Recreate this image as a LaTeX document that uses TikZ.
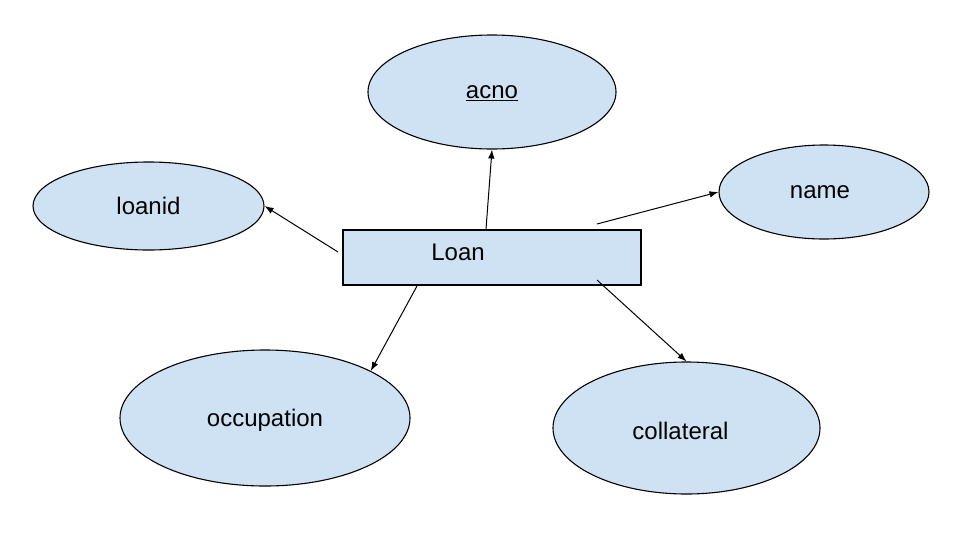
\documentclass[tikz,border=0pt]{standalone}
\usepackage{fontspec}
\setmainfont{Liberation Sans}
\usetikzlibrary{arrows.meta,shapes.geometric}

\definecolor{attrblue}{HTML}{CFE2F3}

\begin{document}
\begin{tikzpicture}[x=1pt,y=-1pt,
	font=\fontsize{24}{28}\selectfont,
	attr/.style={ellipse,draw,line width=1.1pt,fill=attrblue,inner sep=0pt,text depth=0pt},
	ent/.style={rectangle,draw,line width=1.1pt,fill=attrblue,inner sep=0pt,minimum width=298pt,minimum height=55pt},
	link/.style={line width=1pt,-{Latex[length=9pt,width=6.5pt]}}]
	\useasboundingbox (0,0) rectangle (957,546);

	\node[ent] (loan) at (492,257.5) {};
	\node[text depth=0pt] (loantext) at (458,252) {Loan};

	\node[attr,minimum width=248pt,minimum height=114pt] (acno) at (492,92) {\underline{acno}};
	\node[attr,minimum width=231pt,minimum height=88pt] (loanid) at (148.5,206) {loanid};
	\node[attr,minimum width=210pt,minimum height=94pt] (name) at (824,192) {\hspace*{-8pt}name};
	\node[attr,minimum width=290pt,minimum height=136pt] (occupation) at (265,418) {occupation};
	\node[attr,minimum width=267pt,minimum height=132pt] (collateral) at (686.5,428) {\raisebox{-5pt}{collateral}\hspace*{12pt}};

	\coordinate (fromacno) at (486,229);
	\coordinate (fromloanid) at (338,252);
	\coordinate (fromname) at (597,224);
	\coordinate (fromocc) at (417,286);
	\coordinate (fromcoll) at (597,280);

	\draw[link] (fromacno) to (acno.south);
	\draw[link] (fromloanid) to (loanid.east);
	\draw[link] (fromname) to (name.west);
	\draw[link] (fromocc) to (occupation.24);
	\draw[link] (fromcoll) to (collateral.north);
\end{tikzpicture}
\end{document}
